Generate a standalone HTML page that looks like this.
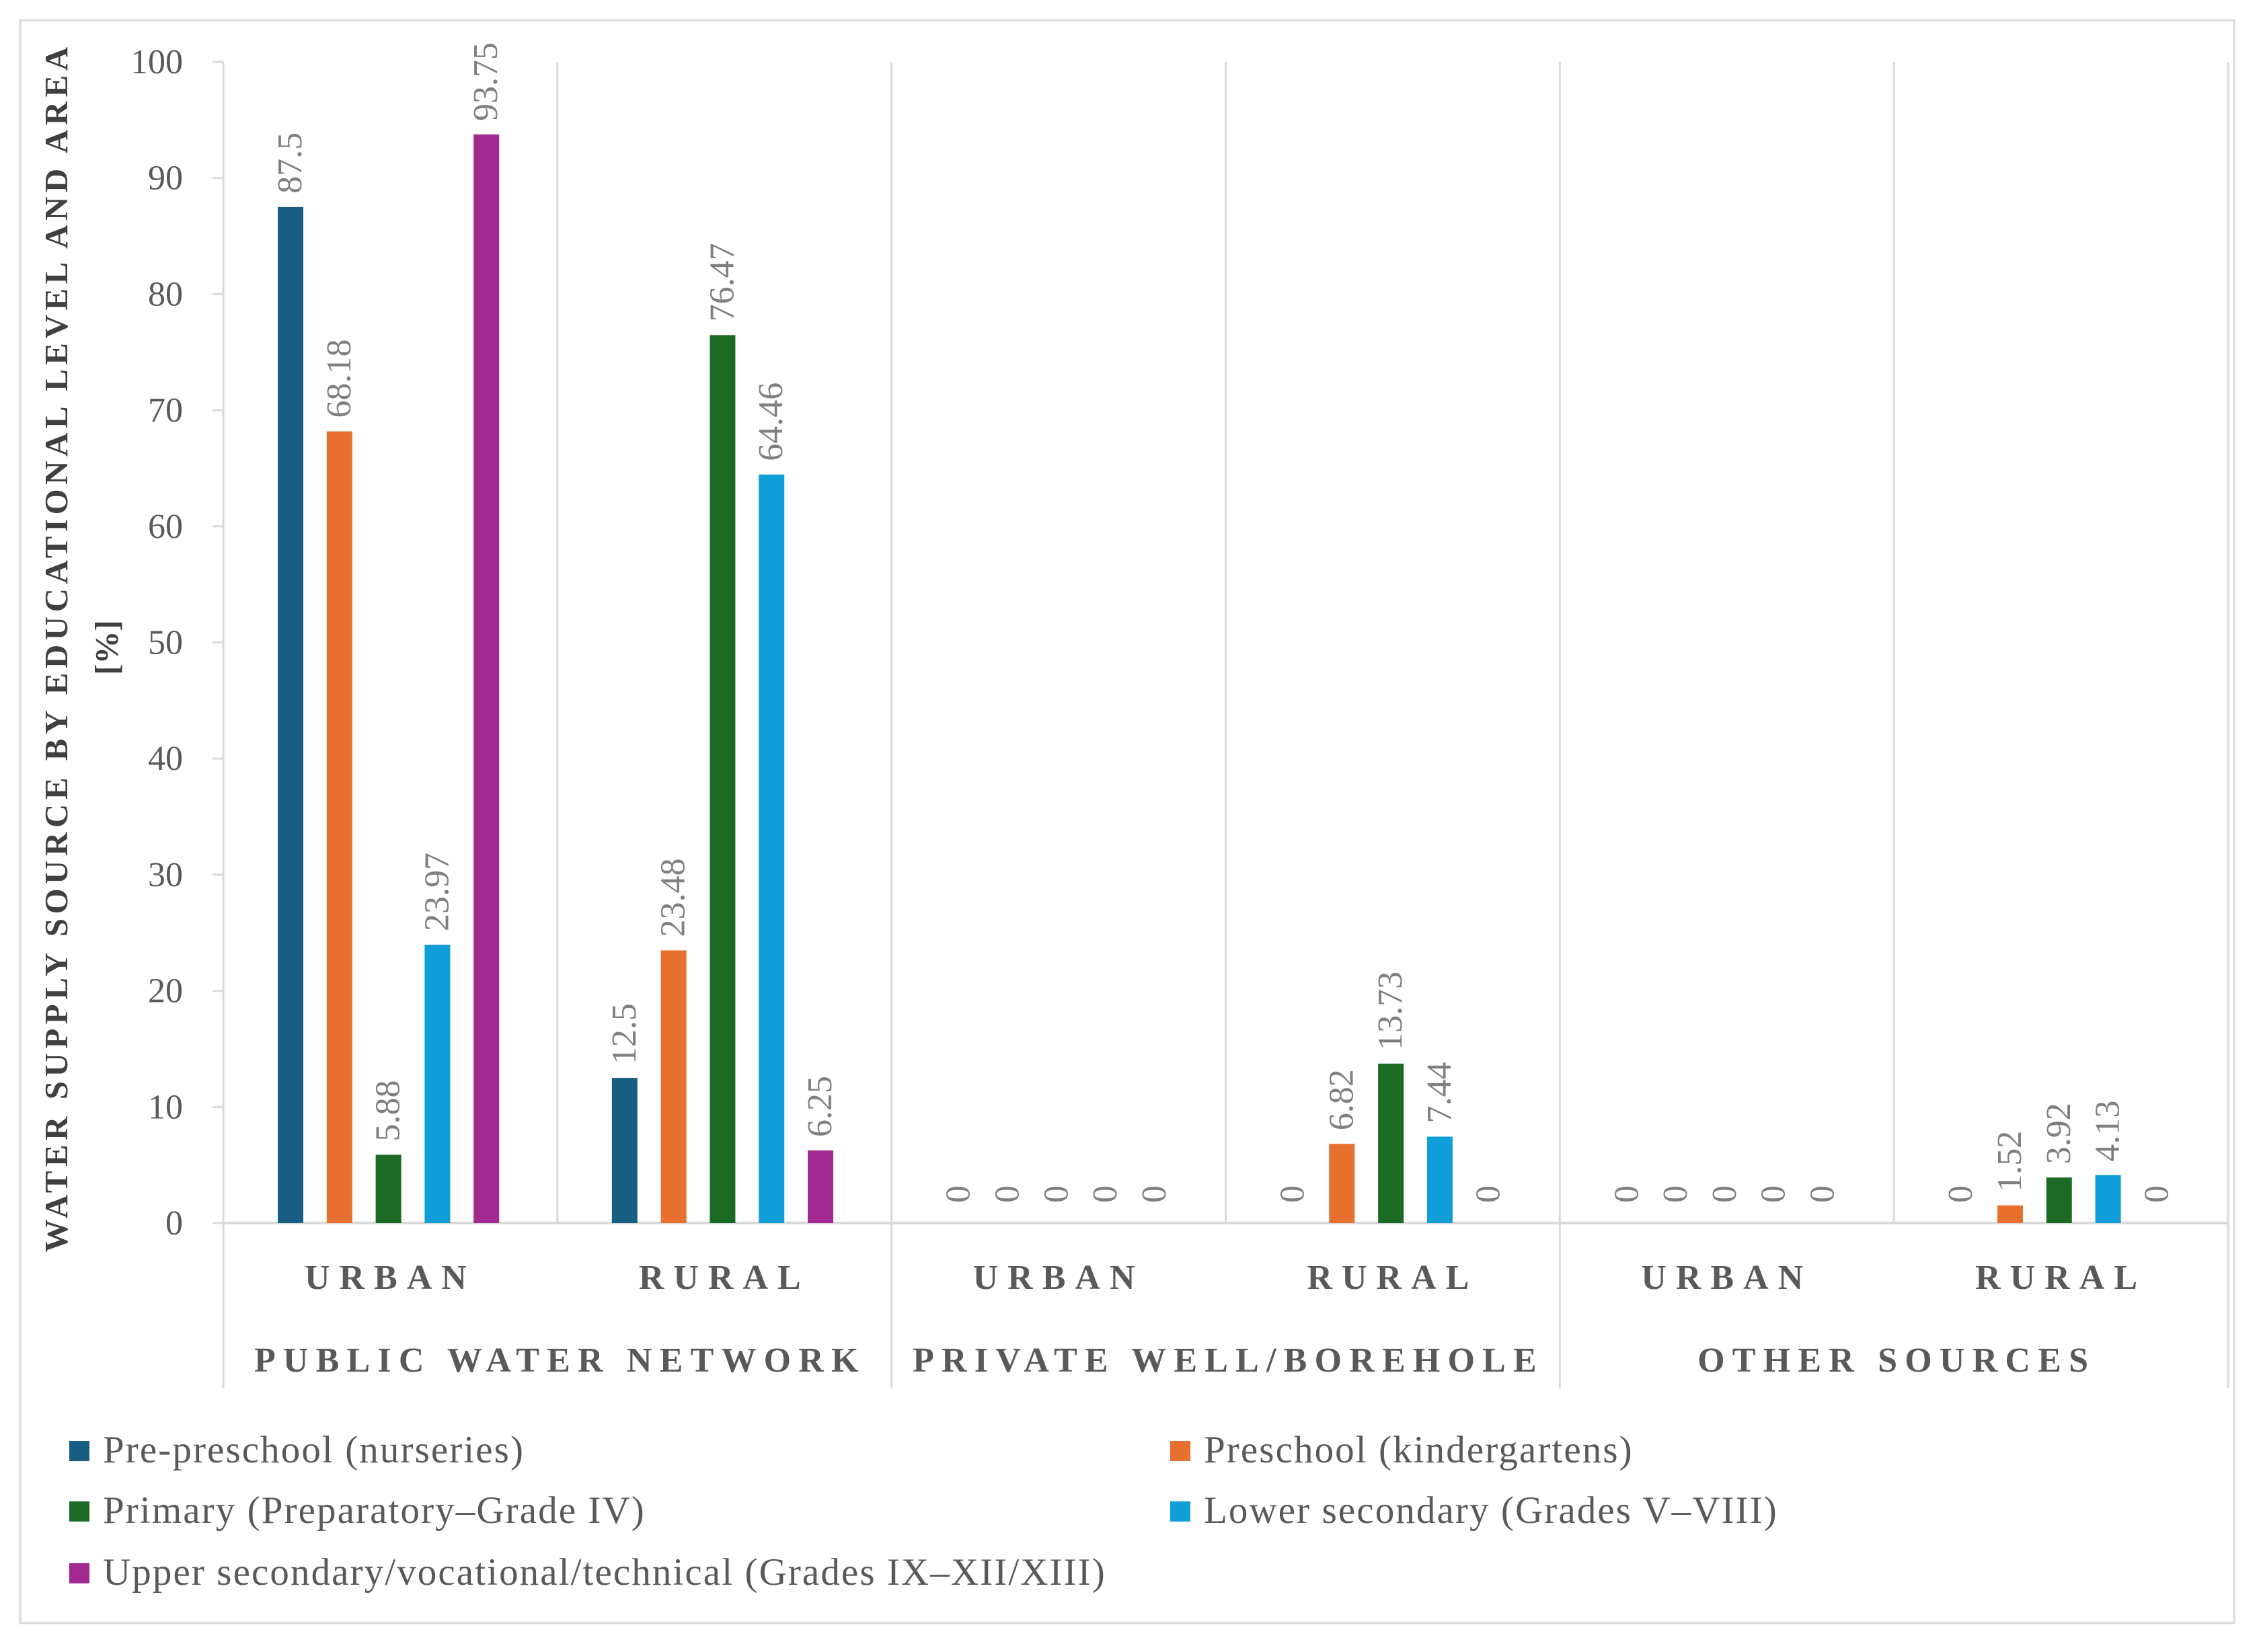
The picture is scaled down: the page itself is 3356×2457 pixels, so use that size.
<!DOCTYPE html>
<html><head><meta charset="utf-8"><style>
html,body{margin:0;padding:0;background:#fff;}
svg{display:block;font-family:"Liberation Serif",serif;}
</style></head><body>
<svg id="chart" width="3356" height="2457" viewBox="0 0 3356 2457" xmlns="http://www.w3.org/2000/svg">
<rect x="30" y="30" width="3292" height="2384" fill="#fff" stroke="#d9d9d9" stroke-width="3"/>
<g id="plot"></g>
</svg>
<script>
const groups = ["PUBLIC WATER NETWORK", "PRIVATE WELL/BOREHOLE", "OTHER SOURCES"];
const areas = ["URBAN", "RURAL"];
const seriesNames = ["Pre-preschool (nurseries)", "Preschool (kindergartens)", "Primary (Preparatory\u2013Grade IV)", "Lower secondary (Grades V\u2013VIII)", "Upper secondary/vocational/technical (Grades IX\u2013XII/XIII)"];
const seriesColors = ["#175E82", "#E8702E", "#1B6B25", "#0F9ED8", "#A2298F"];
const prePreschool = [87.5, 12.5, 0, 0, 0, 0];
const preschool = [68.18, 23.48, 0, 6.82, 0, 1.52];
const primary = [5.88, 76.47, 0, 13.73, 0, 3.92];
const lowerSecondary = [23.97, 64.46, 0, 7.44, 0, 4.13];
const upperSecondary = [93.75, 6.25, 0, 0, 0, 0];
const yTicks = [0, 10, 20, 30, 40, 50, 60, 70, 80, 90, 100];

const series = [prePreschool, preschool, primary, lowerSecondary, upperSecondary];
const NS = "http://www.w3.org/2000/svg";
const g = document.getElementById("plot");
const X0 = 332, X1 = 3313, Y0 = 1819, YTOP = 92;
const catW = (X1 - X0) / 6;
const yScale = v => Y0 - (v / 100) * (Y0 - YTOP);
const xCat = i => X0 + i * catW;
function mk(tag, attrs, parent) {
  const e = document.createElementNS(NS, tag);
  for (const k in attrs) e.setAttribute(k, attrs[k]);
  (parent || g).appendChild(e);
  return e;
}
const yl = mk("line", {x1: X0, y1: YTOP, x2: X0, y2: Y0, stroke: "#d9d9d9", "stroke-width": 3});


yTicks.forEach(t => {
  const y = yScale(t);
  const tk = mk("line", {x1: X0 - 16, y1: y, x2: X0, y2: y, stroke: "#d9d9d9", "stroke-width": 3});
  
  
  const tx = mk("text", {x: 272, y: y + 17, "text-anchor": "end", "font-size": 52, fill: "#595959"});
  tx.textContent = t;
  
  
});
for (let i = 1; i <= 6; i++) {
  const x = xCat(i);
  const isGroup = (i % 2 === 0);
  const ln = mk("line", {x1: x, y1: YTOP, x2: x, y2: isGroup ? 2065 : Y0, stroke: "#d9d9d9", "stroke-width": 3});
  
  
}
const lx0 = mk("line", {x1: X0, y1: Y0, x2: X0, y2: 2065, stroke: "#d9d9d9", "stroke-width": 3});


const xl = mk("line", {x1: X0, y1: Y0, x2: X1, y2: Y0, stroke: "#d9d9d9", "stroke-width": 4});


const barW = 38, step = 72.8, off = 81;
for (let c = 0; c < 6; c++) {
  for (let s = 0; s < 5; s++) {
    const v = series[s][c];
    const x = xCat(c) + off + s * step;
    const y = yScale(v);
    if (v > 0) {
      const r = mk("rect", {x: x, y: y, width: barW, height: Y0 - y, fill: seriesColors[s]});
      
      
    }
    const lx = x + barW / 2 + 16, ly = y - (v > 0 ? 20 : 30);
    const t = mk("text", {x: lx, y: ly, "font-size": 52, fill: "#7f7f7f", transform: `rotate(-90 ${lx} ${ly})`});
    t.textContent = v;
    
    
  }
  const at = mk("text", {x: xCat(c) + catW / 2, y: 1917, "text-anchor": "middle", "font-size": 52, "font-weight": "bold", "letter-spacing": 14, fill: "#595959"});
  at.textContent = areas[c % 2];
  
  
}
groups.forEach((n, i) => {
  const t = mk("text", {x: xCat(i * 2 + 1) + 4, y: 2040, "text-anchor": "middle", "font-size": 52, "font-weight": "bold", "letter-spacing": 11.2, fill: "#595959"});
  t.textContent = n;
  
  
});
const yt = mk("text", {x: 0, y: 0, "text-anchor": "middle", "font-size": 49, "font-weight": "bold", "letter-spacing": 6.5, fill: "#404040", transform: "translate(100 963) rotate(-90)"});
yt.textContent = "WATER SUPPLY SOURCE BY EDUCATIONAL LEVEL AND AREA";


const yt2 = mk("text", {x: 0, y: 0, "text-anchor": "middle", "font-size": 49, "font-weight": "bold", fill: "#404040", transform: "translate(175 963) rotate(-90)"});
yt2.textContent = "[%]";


const legPos = [[103, 2161], [1740, 2161], [103, 2251], [1740, 2251], [103, 2343]];
seriesNames.forEach((n, i) => {
  const [x, y] = legPos[i];
  const sq = mk("rect", {x: x, y: y - 18, width: 30, height: 30, fill: seriesColors[i]});
  
  
  const t = mk("text", {x: x + 50, y: y + 14, "font-size": 57, "letter-spacing": 2.1, fill: "#595959"});
  t.textContent = n;
  
  
});
</script>
</body></html>
